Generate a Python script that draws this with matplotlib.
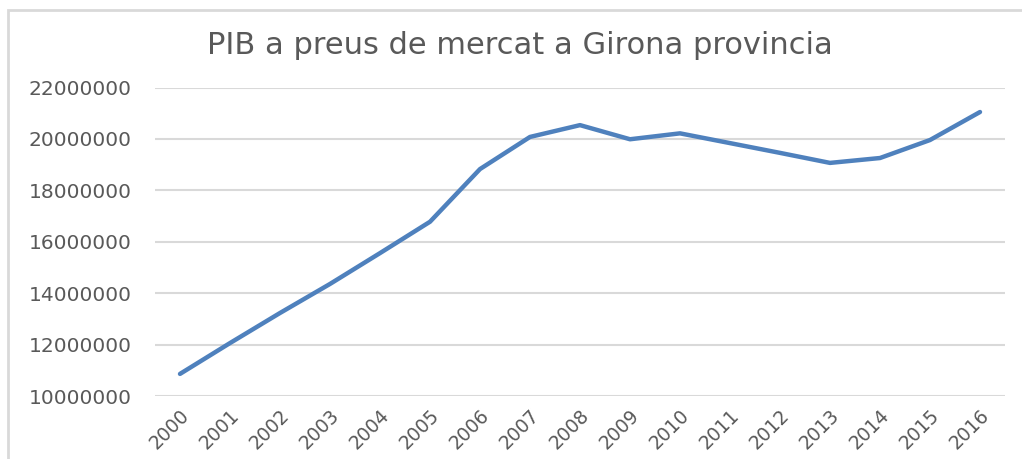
import matplotlib
matplotlib.use('Agg')
import matplotlib.pyplot as plt
from matplotlib.patches import Rectangle

years = [str(y) for y in range(2000, 2017)]
pib = [10860000, 12060000, 13230000, 14360000, 15560000, 16780000, 18830000,
       20080000, 20540000, 19990000, 20220000, 19840000, 19460000, 19070000,
       19260000, 19960000, 21050000]
yticks = [10000000, 12000000, 14000000, 16000000, 18000000, 20000000, 22000000]

text_color = '#595959'
grid_color = '#D9D9D9'
line_color = '#4F81BD'

fig = plt.figure(figsize=(10.22, 4.59), dpi=100)
fig.patches.append(Rectangle((8 / 1022, -0.1), 1.1, (459 - 10) / 459 + 0.1,
                             transform=fig.transFigure, fill=False,
                             edgecolor='#D9D9D9', linewidth=2))

ax = fig.add_axes([155 / 1022, 1 - 396 / 459, (1005 - 155) / 1022, (396 - 87.6) / 459])
x = list(range(len(years)))
ax.plot(x, pib, color=line_color, linewidth=3.2, solid_capstyle='round', zorder=3)

ax.set_xlim(-0.5, len(years) - 0.5)
ax.set_ylim(10000000, 22000000)
ax.set_yticks(yticks)
ax.set_yticklabels([str(v) for v in yticks], color=text_color, fontsize=14.5)
ax.set_xticks(x)
ax.set_xticklabels(years, rotation=45, ha='right', va='top', rotation_mode='anchor',
                   color=text_color, fontsize=13.5)
ax.tick_params(axis='both', length=0)
ax.tick_params(axis='y', pad=17)
ax.tick_params(axis='x', pad=7)
ax.grid(axis='y', color=grid_color, linewidth=1.5)
ax.set_axisbelow(True)
for s in ax.spines.values():
    s.set_visible(False)

fig.text(0.509, 1 - 46 / 459, 'PIB a preus de mercat a Girona provincia',
         ha='center', va='center', fontsize=22, color=text_color)

fig.savefig('out.png', dpi=100)
